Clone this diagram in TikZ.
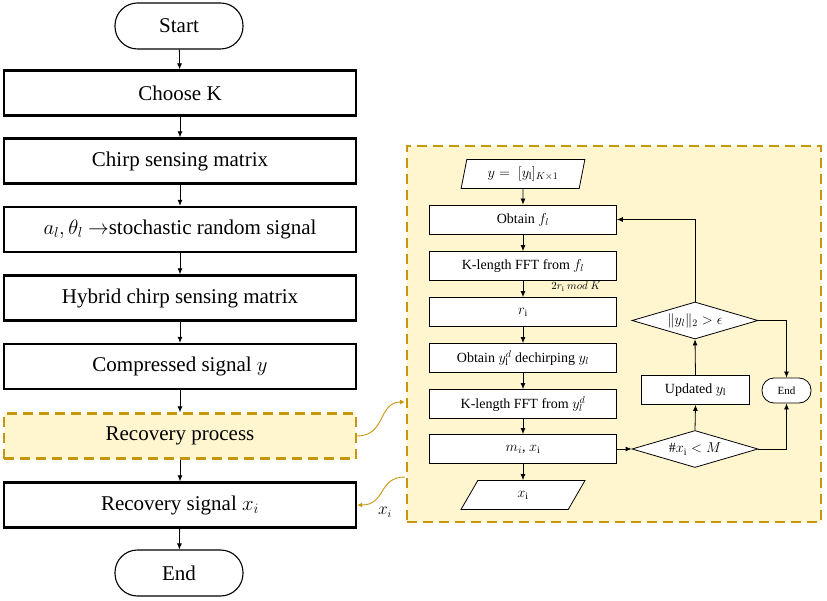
\documentclass[tikz,border=0pt]{standalone}
\usepackage{fontspec}
\setmainfont{Liberation Serif}
\usetikzlibrary{shapes.geometric,arrows.meta}
\definecolor{gold}{RGB}{200,150,12}
\definecolor{cream}{RGB}{255,246,208}
\begin{document}
\begin{tikzpicture}[x=1pt,y=-1pt,
  bigbox/.style={draw, line width=2.4pt, minimum width=352pt, minimum height=45pt, inner sep=0pt, font=\fontsize{21}{23}\selectfont},
  term/.style={draw, line width=1.1pt, rounded corners=22.5pt, minimum width=128pt, minimum height=46pt, inner sep=0pt, font=\fontsize{21}{23}\selectfont},
  dashbox/.style={draw=gold, fill=cream, line width=2.4pt, dash pattern=on 10pt off 6pt},
  arr/.style={-{Latex[length=6pt,width=5pt]}, line width=0.8pt},
  sbox/.style={draw, line width=0.8pt, fill=white, minimum width=187pt, minimum height=29pt, inner sep=0pt, font=\fontsize{14}{16}\selectfont},
  para/.style={draw, line width=0.8pt, fill=white, trapezium, trapezium left angle=76, trapezium right angle=104, trapezium stretches=true, minimum width=124pt, minimum height=29pt, inner sep=0pt, font=\fontsize{14}{16}\selectfont},
  dia/.style={draw, line width=0.8pt, fill=white, diamond, aspect=3.4, minimum width=126pt, minimum height=37pt, inner sep=0pt, font=\fontsize{14}{16}\selectfont},
  smallterm/.style={draw, line width=0.8pt, fill=white, rounded corners=12pt, minimum width=49pt, minimum height=25pt, inner sep=0pt, font=\fontsize{11}{13}\selectfont},
  goldarr/.style={draw=gold, line width=0.9pt, -{Latex[length=5pt,width=5pt]}, fill=none}
]
\useasboundingbox (0,0) rectangle (827,601);

% left column
\node[term]   (start) at (179,26)    {Start};
\node[bigbox] (choose) at (180,93)   {Choose K};
\node[bigbox] (chirp) at (180,161)   {Chirp sensing matrix};
\node[bigbox] (al) at (180,229.5)    {$a_l, \theta_l$ $\rightarrow$stochastic random signal};
\node[bigbox] (hyb) at (180,298)     {Hybrid chirp sensing matrix};
\node[bigbox] (comp) at (180,366.5)  {Compressed signal $y$};
\node[bigbox, dashbox] (rp) at (180,436) {Recovery process};
\node[bigbox] (rs) at (180,505)      {Recovery signal $x_i$};
\node[term]   (end) at (179,573)     {End};

\draw[arr] (start) -- (choose);
\draw[arr] (choose) -- (chirp);
\draw[arr] (chirp) -- (al);
\draw[arr] (al) -- (hyb);
\draw[arr] (hyb) -- (comp);
\draw[arr] (comp) -- (rp);
\draw[arr] (rp) -- (rs);
\draw[arr] (rs) -- (end);

% panel
\node[dashbox, minimum width=414pt, minimum height=376pt, inner sep=0pt] (panel) at (614,334) {};
\coordinate (pin) at (405,402);
\coordinate (pout) at (405,477);

\node[para] (inp) at (523,174) {$y =\;[y_{\mathrm{l}}]_{K\times 1}$};
\node[sbox] (of) at (523,219.5) {Obtain $f_l$};
\node[sbox] (fft1) at (523,266) {K-length FFT from $f_l$};
\node[sbox] (ri) at (523,312) {$r_{\mathrm{i}}$};
\node[sbox] (oy) at (523,358) {Obtain $y_{\mathrm{l}}^{d}$ dechirping $y_l$};
\node[sbox] (fft2) at (523,404) {K-length FFT from $y_l^{d}$};
\node[sbox] (mx) at (523,449) {$m_i$, $x_{\mathrm{i}}$};
\node[para] (xo) at (523,495) {$x_{\mathrm{i}}$};
\node[font=\fontsize{11}{13}\selectfont] (modlbl) at (576,287) {$2r_{\mathrm{i}}\ mod\ K$};

\node[dia] (d1) at (695,320.5) {$\|y_l\|_2 > \epsilon$};
\node[sbox, minimum width=108pt] (up) at (695.5,390) {Updated $y_{\mathrm{l}}$};
\node[smallterm] (e2) at (786.5,390.5) {End};
\node[dia] (d2) at (695,449) {$\#x_{\mathrm{i}} < M$};

\draw[arr] (inp) -- (of);
\draw[arr] (of) -- (fft1);
\draw[arr] (fft1) -- (ri);
\draw[arr] (ri) -- (oy);
\draw[arr] (oy) -- (fft2);
\draw[arr] (fft2) -- (mx);
\draw[arr] (mx) -- (xo);
\draw[arr] (mx.east) -- (d2.west);
\draw[arr] (d2.north) -- (up.south);
\draw[arr] (up.north) -- (d1.south);
\draw[arr] (d1.north) |- (of.east);
\draw[arr] (d1.east) -| (e2.north);
\draw[arr] (d2.east) -| (e2.south);

% gold connectors
\draw[goldarr] (rp.east) .. controls (386,436) and (378,402) .. (pin);
\draw[goldarr] (pout) .. controls (378,477) and (386,505) .. (rs.east);
\node[font=\fontsize{16}{18}\selectfont] (xlbl) at (385,512) {$x_i$};
\end{tikzpicture}
\end{document}
